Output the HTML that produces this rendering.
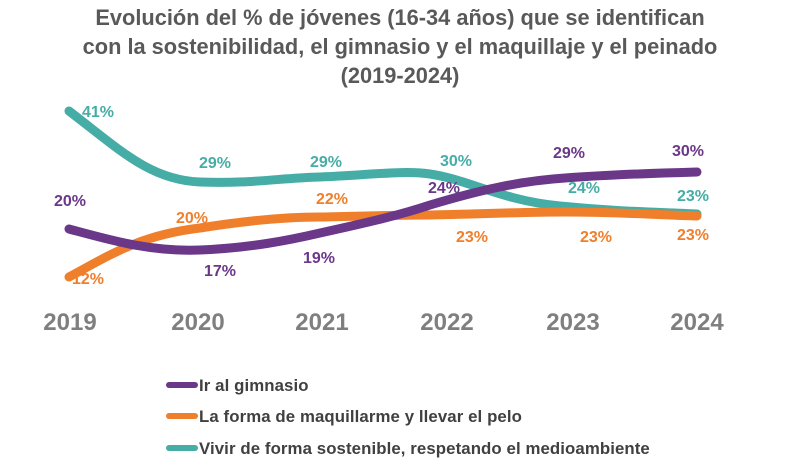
<!DOCTYPE html>
<html><head><meta charset="utf-8"><style>
body{margin:0;background:#fff;width:800px;height:471px;overflow:hidden}
svg{display:block}
</style></head><body>
<svg width="800" height="471" viewBox="0 0 800 471" font-family="Liberation Sans, sans-serif" font-weight="bold">
<g fill="#595959" font-size="21.8" text-anchor="middle">
<text x="400" y="25">Evolución del % de jóvenes (16-34 años) que se identifican</text>
<text x="400" y="54">con la sostenibilidad, el gimnasio y el maquillaje y el peinado</text>
<text x="400" y="83">(2019-2024)</text>
</g>
<g fill="none" stroke-width="9" stroke-linecap="round">
<path d="M69,111 C120,150 150,180 200,182 C250,184 280,178 320,177 C370,175 405,170 430,174 C470,180 500,200 560,206 C620,212 660,212 697,214" stroke="#45ADA6"/>
<path d="M69,277 C110,255 140,235 200,228 C250,220 290,217 320,217 C370,216 400,215 430,215 C480,214 520,212 565,212 C620,212 660,215 697,216" stroke="#F07F2C"/>
<path d="M69,229 C110,240 150,252 200,250 C250,248 290,240 320,233 C370,222 400,215 430,205 C480,190 520,181 565,178 C620,174 660,173 697,172" stroke="#6A3789"/>
</g>
<g font-size="16" text-anchor="middle">
<g fill="#45ADA6"><text x="98" y="117">41%</text><text x="215" y="168">29%</text><text x="326" y="167">29%</text><text x="456" y="166">30%</text><text x="584" y="193">24%</text><text x="693" y="201">23%</text></g>
<g fill="#F07F2C"><text x="88" y="284">12%</text><text x="192" y="223">20%</text><text x="332" y="204">22%</text><text x="472" y="242">23%</text><text x="596" y="242">23%</text><text x="693" y="240">23%</text></g>
<g fill="#6A3789"><text x="70" y="206">20%</text><text x="220" y="276">17%</text><text x="319" y="263">19%</text><text x="444" y="193">24%</text><text x="569" y="158">29%</text><text x="688" y="156">30%</text></g>
</g>
<g fill="#7F7F7F" font-size="24" text-anchor="middle">
<text x="70" y="330">2019</text><text x="198" y="330">2020</text><text x="322" y="330">2021</text><text x="447" y="330">2022</text><text x="573" y="330">2023</text><text x="697" y="330">2024</text>
</g>
<g stroke-width="6" stroke-linecap="round">
<line x1="169" y1="385" x2="195" y2="385" stroke="#6A3789"/>
<line x1="169" y1="416" x2="195" y2="416" stroke="#F07F2C"/>
<line x1="169" y1="448" x2="195" y2="448" stroke="#45ADA6"/>
</g>
<g fill="#404040" font-size="16.8" letter-spacing="0.1">
<text x="199" y="391">Ir al gimnasio</text>
<text x="199" y="422">La forma de maquillarme y llevar el pelo</text>
<text x="199" y="454">Vivir de forma sostenible, respetando el medioambiente</text>
</g>
</svg>
</body></html>
